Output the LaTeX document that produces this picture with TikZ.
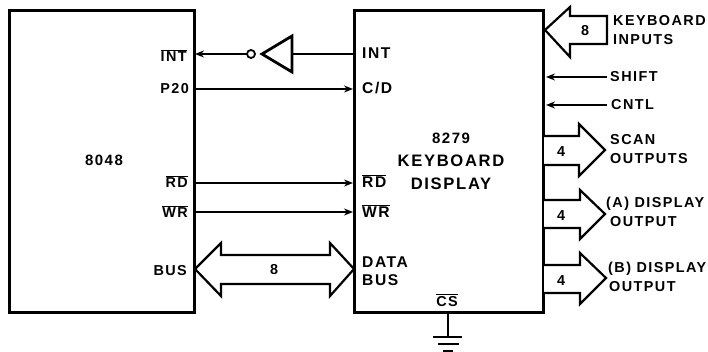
\documentclass[tikz,border=0pt]{standalone}
\usepackage{fontspec}
\setmainfont{Liberation Sans}[LetterSpace=10]
\usetikzlibrary{arrows.meta}
\newcommand{\ovl}[1]{\leavevmode\vbox{\hrule height 1pt \kern 1.2pt \hbox{#1}}}
\tikzset{
  chip/.style={draw,line width=3pt,minimum width=#1,minimum height=301pt,inner sep=0pt,outer sep=0pt},
  wire/.style={line width=2pt},
  sig/.style={wire,-{Stealth[length=9pt,width=7pt]}},
  busarrow/.style={line width=2.2pt,line join=miter,fill=white},
  lbl/.style={font=\bfseries\fontsize{14.4}{15}\selectfont,inner sep=0pt,text=black},
  lw/.style={lbl,anchor=base west},
  le/.style={lbl,anchor=base east},
  lc/.style={lbl,anchor=base},
  wd/.style={lw,font=\bfseries\fontsize{15.6}{16}\selectfont},
  big/.style={font=\bfseries\fontsize{16.6}{17}\selectfont,inner sep=0pt,anchor=base},
  bubble/.style={circle,draw,line width=1.8pt,minimum size=8pt,inner sep=0pt,outer sep=0pt,fill=white}
}
\begin{document}
\begin{tikzpicture}[x=1pt,y=-1pt]
\useasboundingbox (0,0) rectangle (708,352);
\clip (0,0) rectangle (708,352);
% chips
\node[chip=185pt,anchor=north west] (left) at (9,11) {};
\node[chip=189pt,anchor=north west] (right) at (354,11) {};
\node[big,font=\bfseries\fontsize{15}{16}\selectfont] (t8048) at (104,166) {8048};
\node[big,font=\bfseries\fontsize{15}{16}\selectfont] (t8279) at (451,144) {8279};
\node[big] (tkb) at (451,167) {KEYBOARD};
\node[big] (tdisp) at (451,190) {DISPLAY};
% left labels
\node[le] (lint) at (187,62) {\ovl{INT}};
\node[le] (lp20) at (189,94) {P20};
\node[le] (lrd) at (188,188) {\ovl{RD}};
\node[le] (lwr) at (188,218) {\ovl{WR}};
\node[le] (lbus) at (187,275) {BUS};
% right labels
\node[wd] (rint) at (362,59) {INT};
\node[wd] (rcd) at (362,94) {C/D};
\node[wd] (rrd) at (362,188) {\ovl{RD}};
\node[wd] (rwr) at (362,218) {\ovl{WR}};
\node[wd] (rdata) at (362,267) {DATA};
\node[wd] (rbus2) at (362,285) {BUS};
\node[lc] (rcs) at (447,306) {\ovl{CS}};
% wires
\coordinate (aL) at (195,54); \coordinate (aR) at (353,54);
\coordinate (bL) at (195,89); \coordinate (bR) at (353,89);
\coordinate (cL) at (195,183); \coordinate (cR) at (353,183);
\coordinate (dL) at (195,212); \coordinate (dR) at (353,212);
\node[bubble] (inv) at (251,54) {};
\coordinate (invB) at (292,54);
\draw[wire] (aR) -- (invB);
\draw[line width=2.8pt,fill=white,line join=miter] (292,36) -- (292,72) -- (262,54) -- cycle;
\draw[sig] (inv) -- (aL);
\draw[sig] (bL) -- (bR);
\draw[sig] (cL) -- (cR);
\draw[sig] (dL) -- (dR);
% bus arrow
\draw[busarrow] (195,269) -- (221,243) -- (221,255) -- (330,255) -- (330,243) -- (354,269) -- (330,296) -- (330,284) -- (221,284) -- (221,296) -- cycle;
\node[lc] (b8) at (274,274) {8};
% keyboard inputs
\draw[busarrow] (545,30) -- (570,7) -- (570,16) -- (607,16) -- (607,44) -- (570,44) -- (570,57) -- cycle;
\node[lc] (k8) at (585,36) {8};
\node[lw] (kb1) at (613,26) {KEYBOARD};
\node[lw] (kb2) at (613,45) {INPUTS};
% shift / cntl
\node[lw] (shift) at (610,82) {SHIFT};
\node[lw] (cntl) at (611,110) {CNTL};
\coordinate (sE) at (607,77); \coordinate (sW) at (546,77);
\coordinate (cE) at (607,105); \coordinate (cW) at (546,105);
\draw[sig] (sE) -- (sW);
\draw[sig] (cE) -- (cW);
% output arrows
\draw[busarrow] (544,136) -- (579,136) -- (579,124) -- (605,150) -- (579,176) -- (579,165) -- (544,165);
\node[lc] (s4) at (561,157) {4};
\node[lw] (sc1) at (610,145) {SCAN};
\node[lw] (sc2) at (610,164) {OUTPUTS};
\draw[busarrow] (544,200) -- (580,200) -- (580,190) -- (605,214) -- (580,239) -- (580,228) -- (544,228);
\node[lc] (a4) at (561,221) {4};
\node[lw] (a1) at (606,208) {(A) DISPLAY};
\node[lw] (a2) at (610,227) {OUTPUT};
\draw[busarrow] (544,265) -- (580,265) -- (580,253) -- (606,278) -- (580,304) -- (580,293) -- (544,293);
\node[lc] (b4) at (561,285) {4};
\node[lw] (b1) at (608,272) {(B) DISPLAY};
\node[lw] (b2) at (609,291) {OUTPUT};
% ground
\coordinate (g0) at (448,337);
\draw[line width=2.4pt] (right.south -| g0) -- (g0);
\draw[line width=2.8pt] (433,337) -- (462,337);
\draw[line width=2.8pt] (438,344) -- (459,344);
\draw[line width=2.8pt] (443,351) -- (453,351);
\end{tikzpicture}
\end{document}
